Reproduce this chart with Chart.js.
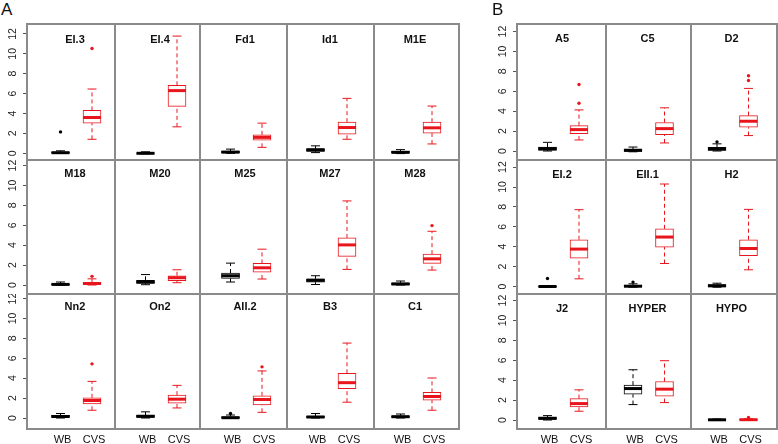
<!DOCTYPE html>
<html>
<head>
<meta charset="utf-8">
<script src="https://cdn.jsdelivr.net/npm/chart.js@4"></script>
<style>
  body { margin: 0; background: #fff; width: 778px; height: 444px; position: relative; overflow: hidden;
         font-family: "Liberation Sans", Arial, sans-serif; }
  canvas { position: absolute; }
  .ttl { position: absolute; font-weight: bold; font-size: 11px; transform: translate(-50%, -50%); white-space: nowrap; color: #111; }
  .tag { position: absolute; font-size: 17px; color: #111; }
  .ln { position: absolute; background: #8a8a8a; }
</style>
</head>
<body>
<script>
// groups and y ticks
const groups = ["WB", "CVS"];
const yTicks = [0, 2, 4, 6, 8, 10, 12];

// panel A (15 panels), stats = [lower whisker, q1, median, q3, upper whisker]
const namesA = ["EI.3", "EI.4", "Fd1", "Id1", "M1E",
                "M18", "M20", "M25", "M27", "M28",
                "Nn2", "On2", "AII.2", "B3", "C1"];
const wbA = [
  [0, 0.02, 0.06, 0.12, 0.25], [-0.05, -0.02, 0, 0.03, 0.15], [0, 0.04, 0.12, 0.22, 0.42], [0.07, 0.2, 0.34, 0.48, 0.75], [-0.03, 0.02, 0.1, 0.2, 0.37],
  [-0.03, 0.01, 0.06, 0.12, 0.3], [0.03, 0.15, 0.3, 0.47, 1.05], [0.3, 0.67, 0.93, 1.2, 2.2], [0.05, 0.28, 0.47, 0.63, 0.93], [0, 0.03, 0.1, 0.22, 0.4],
  [0, 0.05, 0.15, 0.27, 0.45], [0, 0.06, 0.17, 0.3, 0.62], [-0.03, -0.01, 0.03, 0.12, 0.3], [0, 0.03, 0.1, 0.2, 0.45], [0, 0.05, 0.13, 0.23, 0.4]
];
const cvsA = [
  [1.41, 3.03, 3.6, 4.31, 6.46], [2.66, 4.71, 6.3, 6.83, 11.78], [0.6, 1.31, 1.6, 1.85, 3.03], [1.41, 1.92, 2.59, 3.13, 5.52], [0.94, 2.02, 2.56, 3.13, 4.75],
  [0, 0.05, 0.15, 0.28, 0.62], [0.23, 0.43, 0.73, 0.93, 1.53], [0.6, 1.3, 1.73, 2.17, 3.6], [1.57, 2.87, 4.03, 4.73, 8.45], [1.5, 2.17, 2.63, 3.1, 5.4],
  [0.78, 1.42, 1.76, 2.03, 3.68], [1.01, 1.49, 1.89, 2.3, 3.28], [0.57, 1.32, 1.86, 2.23, 4.73], [1.59, 2.94, 3.55, 4.49, 7.53], [0.78, 1.79, 2.16, 2.57, 4.02]
];
const wbOutA = [[2.15], [], [], [], [], [], [], [], [], [], [], [], [0.45], [], []];
const cvsOutA = [[10.54], [], [], [], [], [0.87], [], [], [], [5.97], [5.44], [], [5.14], [], []];

// panel B (9 panels)
const namesB = ["A5", "C5", "D2", "EI.2", "EII.1", "H2", "J2", "HYPER", "HYPO"];
const wbB = [
  [0, 0.07, 0.24, 0.4, 0.87], [-0.08, -0.05, 0.07, 0.2, 0.4], [0, 0.05, 0.2, 0.37, 0.72],
  [-0.05, -0.03, 0, 0.05, 0.1], [-0.07, -0.04, 0.03, 0.13, 0.27], [-0.07, -0.03, 0.07, 0.2, 0.33],
  [0, 0.05, 0.17, 0.3, 0.44], [1.55, 2.59, 3.16, 3.5, 5.05], [-0.03, -0.01, 0.02, 0.06, 0.1]
];
const cvsB = [
  [1.11, 1.75, 2.15, 2.55, 4.13], [0.81, 1.65, 2.25, 2.86, 4.34], [1.55, 2.39, 2.99, 3.56, 6.29],
  [0.77, 2.85, 3.76, 4.7, 7.72], [2.31, 3.96, 4.97, 5.8, 10.3], [1.68, 3.11, 3.82, 4.7, 7.75],
  [0.88, 1.31, 1.65, 2.15, 3.03], [1.75, 2.39, 3.1, 3.87, 5.96], [-0.03, -0.01, 0.03, 0.07, 0.12]
];
const wbOutB = [[], [], [0.92], [0.8], [0.44], [], [], [], []];
const cvsOutB = [[4.8, 6.69], [], [7.09, 7.56], [], [], [], [], [], [0.25]];

// layout
const colors = ["#000000", "#e8161c"];
const FONT = "'Liberation Sans', Arial, sans-serif";
const PX = 31.5;   // px per x unit
const PY = 9.95;   // px per y unit
const rowEdges = [24, 160, 294, 429];
const layoutA = { cols: [27, 115, 200, 287, 374, 459], wb: [60.5, 145.5, 230.5, 315.5, 400.5],
                  zero: [153.3, 285, 418], titleDy: [15, 13, 11.5] };
const layoutB = { cols: [517, 606, 691, 777], wb: [547.5, 633, 717],
                  zero: [151, 286.5, 420], titleDy: [13.5, 14, 14] };

function boxChart(cell) {
  const axW = cell.showY ? 27 : 0, axH = cell.showX ? 15 : 0;
  const W = cell.w + axW, H = cell.h + axH;
  const cv = document.createElement("canvas");
  cv.width = W; cv.height = H;
  cv.style.left = (cell.x - axW) + "px";
  cv.style.top = cell.y + "px";
  cv.style.width = W + "px"; cv.style.height = H + "px";
  document.body.appendChild(cv);

  const stats = [cell.wb, cell.cvs], outs = [cell.wbOut, cell.cvsOut];
  const half = 9 / PX, cap = 4.5 / PX;
  const ds = [{
    type: "bar",
    data: stats.map((s, i) => ({ x: i + 1, y: [s[1], s[3]] })),
    backgroundColor: "#ffffff", borderColor: colors, borderWidth: 1,
    borderSkipped: false, barThickness: 18, order: 2
  }];
  stats.forEach((s, i) => {
    const x = i + 1;
    // dashed whiskers
    ds.push({ type: "line", data: [{ x, y: s[0] }, { x, y: s[1] }, { x, y: null }, { x, y: s[3] }, { x, y: s[4] }],
      borderColor: colors[i], borderWidth: 1, borderDash: [4, 3], pointRadius: 0, order: 3 });
    // staples
    ds.push({ type: "line", data: [{ x: x - cap, y: s[0] }, { x: x + cap, y: s[0] }, { x, y: null }, { x: x - cap, y: s[4] }, { x: x + cap, y: s[4] }],
      borderColor: colors[i], borderWidth: 1, pointRadius: 0, order: 1 });
    // median
    ds.push({ type: "line", data: [{ x: x - half, y: s[2] }, { x: x + half, y: s[2] }],
      borderColor: colors[i], borderWidth: 3, borderCapStyle: "butt", pointRadius: 0, order: 1 });
    // outliers
    ds.push({ type: "line", showLine: false, data: outs[i].map(v => ({ x, y: v })),
      pointRadius: 1.7, pointBackgroundColor: colors[i], pointBorderWidth: 0, order: 1 });
  });

  new Chart(cv, {
    type: "line",
    data: { datasets: ds },
    options: {
      responsive: false, animation: false, events: [], devicePixelRatio: 1,
      layout: { padding: 0, autoPadding: false },
      plugins: { legend: { display: false }, tooltip: { enabled: false } },
      scales: {
        x: {
          type: "linear", min: cell.xmin, max: cell.xmax, display: cell.showX, offset: false,
          afterBuildTicks: s => { s.ticks = [{ value: 1 }, { value: 2 }]; },
          afterFit: s => { s.height = axH; s.paddingLeft = 0; s.paddingRight = 0; },
          ticks: { callback: (v, i) => groups[i], labelOffset: 2, padding: 4, autoSkip: false,
                   maxRotation: 0, color: "#111", font: { family: FONT, size: 11 } },
          grid: { display: false, drawTicks: false, offset: false }, border: { display: false }
        },
        y: {
          type: "linear", min: cell.ymin, max: cell.ymax, display: cell.showY, offset: false,
          beginAtZero: false, grace: 0,
          afterBuildTicks: s => { s.ticks = yTicks.map(v => ({ value: v })); },
          afterFit: s => { s.width = axW; s.paddingTop = 0; s.paddingBottom = 0; },
          ticks: { minRotation: 90, maxRotation: 90, crossAlign: "center", padding: 4,
                   color: "#222", font: { family: FONT, size: 10.5 } },
          grid: { drawOnChartArea: false, drawTicks: true, tickLength: 4, color: "#555", offset: false },
          border: { display: false }
        }
      }
    }
  });
}

function line(x, y, w, h) {
  const d = document.createElement("div");
  d.className = "ln";
  d.style.left = x + "px"; d.style.top = y + "px";
  d.style.width = w + "px"; d.style.height = h + "px";
  document.body.appendChild(d);
}

function text(cls, str, x, y) {
  const d = document.createElement("div");
  d.className = cls;
  d.textContent = str;
  d.style.left = x + "px"; d.style.top = y + "px";
  document.body.appendChild(d);
}

function drawGroup(lay, names, wb, cvs, wbOut, cvsOut) {
  const nCols = lay.cols.length - 1;
  names.forEach((name, k) => {
    const r = Math.floor(k / nCols), c = k % nCols;
    const x = lay.cols[c], w = lay.cols[c + 1] - x;
    const y = rowEdges[r], h = rowEdges[r + 1] - y;
    const xmin = 1 - (lay.wb[c] - x) / PX;
    boxChart({
      x, y, w, h,
      xmin, xmax: xmin + w / PX,
      ymin: -(rowEdges[r + 1] - lay.zero[r]) / PY, ymax: (lay.zero[r] - y) / PY,
      showY: c === 0, showX: r === 2,
      wb: wb[k], cvs: cvs[k], wbOut: wbOut[k], cvsOut: cvsOut[k]
    });
    text("ttl", name, lay.wb[c] + 14.5, y + lay.titleDy[r]);
  });
  const left = lay.cols[0], right = lay.cols[nCols];
  lay.cols.forEach(cx => line(cx - 1, rowEdges[0] - 1, 2, rowEdges[3] - rowEdges[0] + 2));
  rowEdges.forEach(ry => line(left - 1, ry - 1, right - left + 2, 2));
}

drawGroup(layoutA, namesA, wbA, cvsA, wbOutA, cvsOutA);
drawGroup(layoutB, namesB, wbB, cvsB, wbOutB, cvsOutB);
text("tag", "A", 1, 0);
text("tag", "B", 492, 0);
</script>
</body>
</html>
